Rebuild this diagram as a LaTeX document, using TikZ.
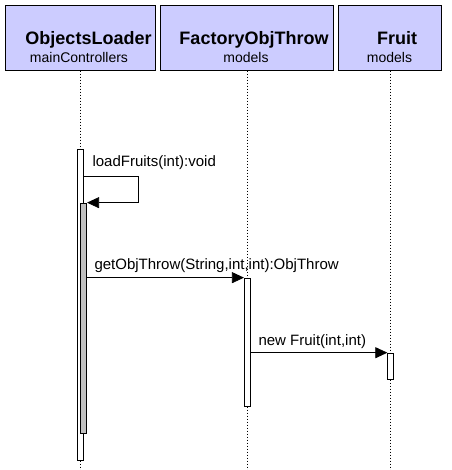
\documentclass[tikz,border=0pt]{standalone}
\usepackage{fontspec}
\setmainfont{Liberation Sans}
\usetikzlibrary{arrows.meta}

\definecolor{classblue}{RGB}{204,204,255}
\definecolor{actgray}{RGB}{192,192,192}

\tikzset{
  classbox/.style={draw=black,line width=0.8pt,fill=classblue,inner sep=0pt,minimum height=65.7pt},
  title/.style={anchor=base,inner sep=0pt,font=\fontsize{18}{20}\selectfont\bfseries},
  pkg/.style={anchor=base,inner sep=0pt,font=\fontsize{14}{16}\selectfont},
  lifeline/.style={draw=black,line width=0.5pt,dash pattern=on 1.5pt off 1.5pt},
  act/.style={draw=black,line width=0.7pt,fill=white,inner sep=0pt,minimum width=6pt},
  msg/.style={draw=black,line width=0.7pt,-{Triangle[length=12pt,width=11pt]}},
  msglabel/.style={anchor=base west,inner sep=0pt,font=\fontsize{15}{17}\selectfont}
}

\begin{document}
\begin{tikzpicture}[x=1pt,y=-1pt]
    \useasboundingbox (0,0) rectangle (451,470);
    % class boxes
    \node[classbox,minimum width=150.7pt] (loader) at (80.3,37.8) {};
    \node[classbox,minimum width=173.3pt] (factory) at (246.7,37.8) {};
    \node[classbox,minimum width=103.3pt] (fruit) at (390,37.8) {};
    \node[title] (loadername) at (88.5,45) {ObjectsLoader};
    \node[pkg] (loaderpkg) at (79,63) {mainControllers};
    \node[title] (factoryname) at (254,45) {FactoryObjThrow};
    \node[pkg] (factorypkg) at (246,63) {models};
    \node[title] (fruitname) at (397,45) {Fruit};
    \node[pkg] (fruitpkg) at (389.5,63) {models};
    % lifelines
    \coordinate (loaderend) at (80.7,470);
    \coordinate (factoryend) at (247.3,470);
    \coordinate (fruitend) at (390.5,470);
    \draw[lifeline] (80.7,70.7) -- (loaderend);
    \draw[lifeline] (247.3,70.7) -- (factoryend);
    \draw[lifeline] (390.5,70.7) -- (fruitend);
    % activations
    \node[act,minimum height=311pt] (loadact) at (80.3,304.5) {};
    \node[act,fill=actgray,minimum height=230pt] (fruitsact) at (83.7,318) {};
    \node[act,minimum height=128pt] (factoryact) at (247.3,342) {};
    \node[act,minimum height=26.3pt] (fruitact) at (390.7,366.2) {};
    % messages
    \coordinate (selfturn) at (138.3,176.7);
    \draw[msg] (loadact.east |- selfturn) -- (selfturn) |- (fruitsact.north east);
    \node[msglabel] (loadlabel) at (92.3,166.7) {loadFruits(int):void};
    \draw[msg] (fruitsact.east |- factoryact.north west) -- (factoryact.north west);
    \node[msglabel] (getlabel) at (94.3,269.3) {getObjThrow(String,int,int):ObjThrow};
    \draw[msg] (factoryact.east |- fruitact.north west) -- (fruitact.north west);
    \node[msglabel] (newlabel) at (258.3,345) {new Fruit(int,int)};
\end{tikzpicture}
\end{document}
